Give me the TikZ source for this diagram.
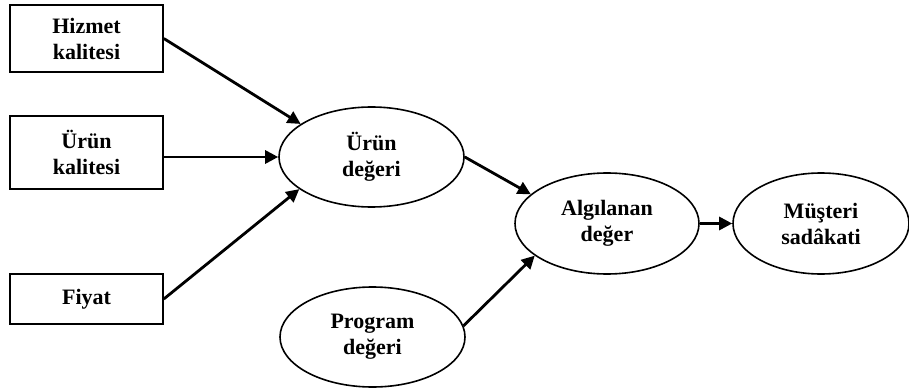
\documentclass[tikz,border=0pt]{standalone}
\usepackage{fontspec}
\setmainfont{Liberation Serif}
\usepackage{tikz}
\usetikzlibrary{shapes, arrows.meta, positioning, calc}
\tikzstyle{factor} = [rectangle, minimum width=153pt, inner sep=0pt, text centered, align=center, draw=black, line width=1.6pt, font=\bfseries\fontsize{22}{26}\selectfont]
\tikzstyle{value} = [ellipse, minimum width=185pt, minimum height=100pt, inner sep=0pt, text centered, align=center, draw=black, line width=1.6pt, font=\bfseries\fontsize{22}{26}\selectfont]
\tikzstyle{arrow} = [line width=2.8pt, -{Triangle[length=13pt, width=13pt]}]

\begin{document}
\begin{tikzpicture}[x=1pt, y=-1pt]
				\useasboundingbox (0,0) rectangle (909,390);
				\node (hizmet) [factor, minimum height=67pt] at (86.5,38.5) {Hizmet\\kalitesi};
				\node (urunkal) [factor, minimum height=73pt] at (86.5,152.5) {Ürün\\kalitesi};
				\node (fiyat) [factor, minimum height=50pt] at (86.5,299) {Fiyat};
				\node (urundeger) [value] at (371.5,157) {Ürün\\değeri};
				\node (program) [value] at (372.5,337) {Program\\değeri};
				\node (algilanan) [value, minimum width=184pt, minimum height=101pt] at (607,223.5) {Algılanan\\değer};
				\node (musteri) [value, minimum width=176pt, minimum height=101pt] at (821,223.5) {Müşteri\\sadâkati};

				\draw [arrow] (hizmet.east) -- (urundeger.155);
				\draw [arrow] (urunkal.east |- urundeger.west) -- (urundeger.west);
				\draw [arrow] (fiyat.east) -- (urundeger.204);
				\draw [arrow] (urundeger.east) -- (algilanan.159);
				\draw [arrow] (program.7) -- (algilanan.204);
				\draw [arrow] (algilanan.east) -- (musteri.west);
			\end{tikzpicture}
\end{document}
